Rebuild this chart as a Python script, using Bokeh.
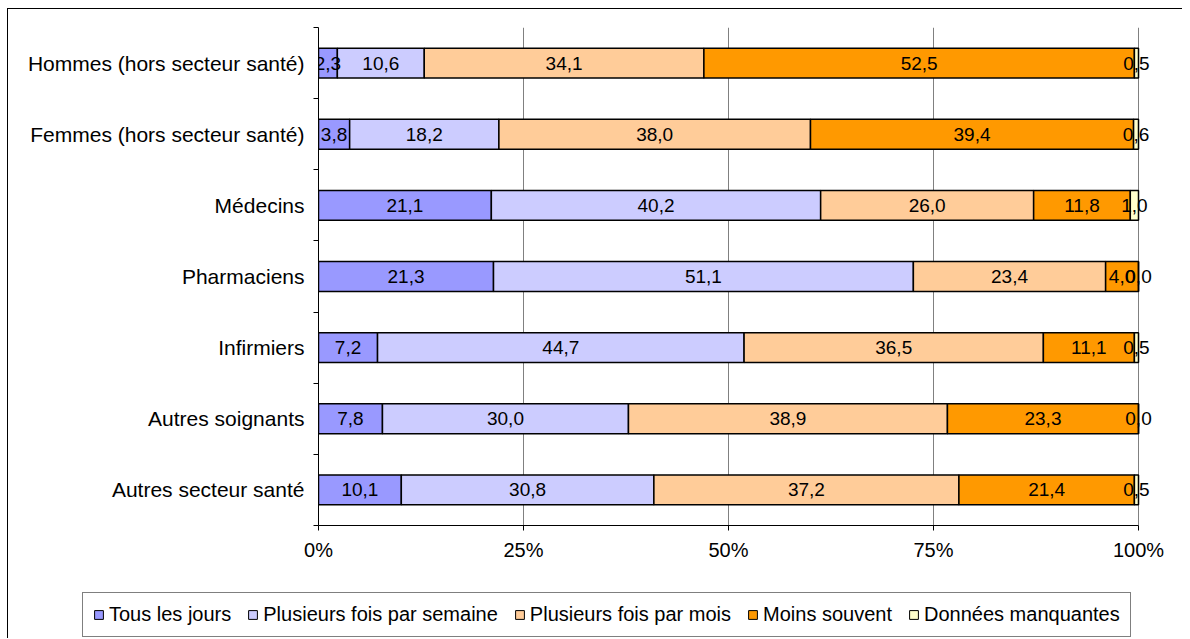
from bokeh.plotting import figure
from bokeh.models import ColumnDataSource, FixedTicker, Legend, LegendItem, Range1d
from bokeh.core.properties import value
from bokeh.embed import file_html
from bokeh.resources import INLINE

# ---- data ----
groups = ["Hommes (hors secteur santé)", "Femmes (hors secteur santé)", "Médecins",
          "Pharmaciens", "Infirmiers", "Autres soignants", "Autres secteur santé"]
tous_les_jours = [2.3, 3.8, 21.1, 21.3, 7.2, 7.8, 10.1]
par_semaine = [10.6, 18.2, 40.2, 51.1, 44.7, 30.0, 30.8]
par_mois = [34.1, 38.0, 26.0, 23.4, 36.5, 38.9, 37.2]
moins_souvent = [52.5, 39.4, 11.8, 4.0, 11.1, 23.3, 21.4]
manquantes = [0.5, 0.6, 1.0, 0.0, 0.5, 0.0, 0.5]
series_names = ["Tous les jours", "Plusieurs fois par semaine", "Plusieurs fois par mois",
                "Moins souvent", "Données manquantes"]
x_ticks = [0, 25, 50, 75, 100]
x_tick_labels = ["0%", "25%", "50%", "75%", "100%"]

colors = ["#9999FF", "#CCCCFF", "#FFCC99", "#FF9900", "#FFFFCC"]
FONT = "Liberation Sans"

series = [tous_les_jours, par_semaine, par_mois, moins_souvent, manquantes]
keys = ["s0", "s1", "s2", "s3", "s4"]
n = len(groups)
yc = [n - 0.5 - i for i in range(n)]
totals = [sum(s[i] for s in series) for i in range(n)]

data = {"y": yc}
for k, s in zip(keys, series):
    data[k] = [s[i] / totals[i] * 100 for i in range(n)]
src = ColumnDataSource(data)

# label positions (segment centres, 100% stacked)
lx, ly, lt = [], [], []
for i in range(n):
    cum = 0.0
    for k, s in zip(keys, series):
        w = data[k][i]
        lx.append(cum + w / 2)
        ly.append(yc[i])
        lt.append(f"{s[i]:.1f}".replace(".", ","))
        cum += w
lab_src = ColumnDataSource(dict(x=lx, y=ly, t=lt))

W = 1175
LEFT = 310
FRAME_W = W - LEFT
p = figure(width=W, height=577, output_backend="svg", toolbar_location=None,
           x_range=Range1d(0, 100 * FRAME_W / 820), y_range=Range1d(0, n),
           min_border_left=LEFT, min_border_right=0, min_border_top=18, min_border_bottom=61)
p.outline_line_color = None
p.background_fill_color = "white"
p.border_fill_color = "white"
p.styles = {"border-left": "1px solid black", "border-top": "1px solid black",
            "margin-left": "7px", "margin-top": "8px"}

rs = p.hbar_stack(keys, y="y", height=0.42, fill_color=colors, line_color="black",
                  line_width=1.5, source=src)

p.text(x="x", y="y", text="t", source=lab_src, text_align="center", text_baseline="middle",
       text_font=value(FONT), text_font_size="19px", text_color="black")

# grid
p.ygrid.visible = False
p.xgrid.ticker = FixedTicker(ticks=[25, 50, 75, 100])
p.xgrid.grid_line_color = "#808080"
p.xgrid.grid_line_width = 1

# x axis
xa = p.xaxis[0]
xa.ticker = FixedTicker(ticks=x_ticks)
xa.major_label_overrides = dict(zip(x_ticks, x_tick_labels))
xa.bounds = (0, 100)
xa.major_tick_out = 5
xa.major_tick_in = 0
xa.minor_tick_out = 0
xa.minor_tick_in = 0
xa.major_label_standoff = 8
xa.major_label_text_font = FONT
xa.major_label_text_font_size = "20px"
xa.major_label_text_color = "black"
xa.axis_line_color = "black"
xa.major_tick_line_color = "black"

# y axis
ya = p.yaxis[0]
ya.ticker = FixedTicker(ticks=yc, minor_ticks=list(range(n + 1)))
ya.major_label_overrides = {yc[i]: groups[i] for i in range(n)}
ya.bounds = (0, n)
ya.major_tick_out = 0
ya.major_tick_in = 0
ya.minor_tick_out = 5
ya.minor_tick_in = 0
ya.major_label_standoff = 9
ya.major_label_text_font = FONT
ya.major_label_text_font_size = "21px"
ya.major_label_text_color = "black"
ya.axis_line_color = "black"
ya.minor_tick_line_color = "black"

# legend strip (separate root so the legend is not clipped by the plot frame)
p2 = figure(width=W, height=53, output_backend="svg", toolbar_location=None,
            x_range=Range1d(0, 100), y_range=Range1d(-2, -1),
            min_border_left=0, min_border_right=0, min_border_top=0, min_border_bottom=0)
p2.axis.visible = False
p2.grid.visible = False
p2.outline_line_color = None
p2.border_fill_color = "white"
p2.background_fill_color = "white"
p2.styles = {"border-left": "1px solid black", "margin-left": "7px"}
rs2 = p2.hbar_stack(keys, y="y", height=0.42, fill_color=colors, line_color="black",
                    line_width=1, source=src)
for r in rs2:
    r.visible = False

legend = Legend(items=[LegendItem(label=nm, renderers=[r]) for nm, r in zip(series_names, rs2)],
                orientation="horizontal", location=(74, 1))
legend.label_text_font = FONT
legend.label_text_font_size = "20px"
legend.label_text_color = "black"
legend.glyph_width = 11
legend.glyph_height = 11
legend.label_standoff = 5
legend.spacing = 16
legend.padding = 10
legend.margin = 0
legend.label_height = 19
legend.border_line_color = "black"
legend.border_line_width = 1
legend.background_fill_color = "white"
legend.background_fill_alpha = 1
legend.click_policy = "none"
p2.add_layout(legend)

open("out.html", "w").write(file_html([p, p2], INLINE))
